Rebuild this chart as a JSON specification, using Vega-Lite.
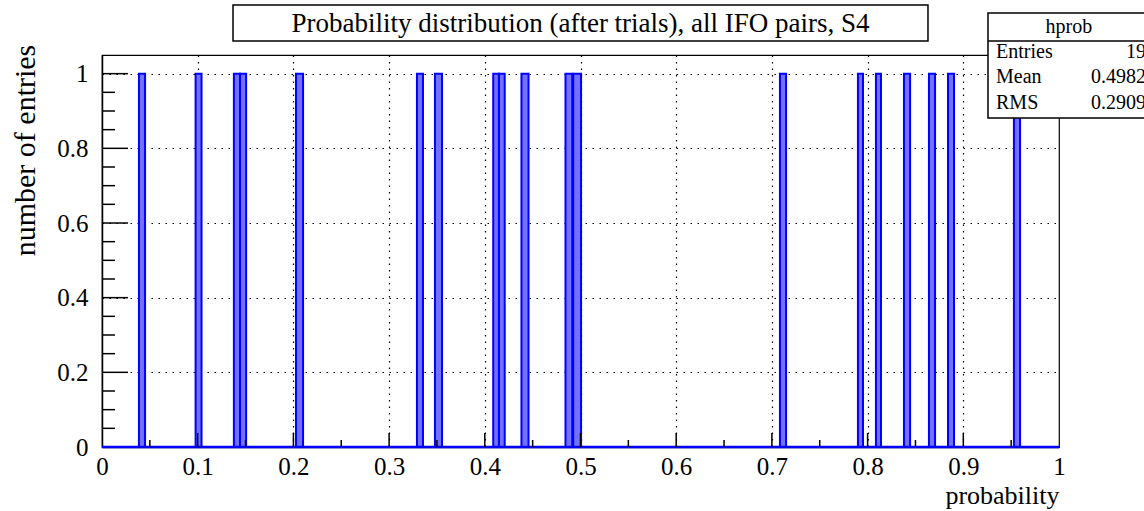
{
  "$schema": "https://vega.github.io/schema/vega-lite/v6.json",
  "autosize": "none",
  "width": 957,
  "height": 392,
  "padding": {"left": 102, "top": 55, "right": 85, "bottom": 64},
  "background": "white",
  "config": {
    "view": {"stroke": "#000000", "strokeWidth": 1.2},
    "font": "Liberation Serif",
    "text": {"font": "Liberation Serif", "fontSize": 20, "color": "#000000", "baseline": "alphabetic"},
    "axis": {
      "labelFont": "Liberation Serif",
      "labelFontSize": 25,
      "labelColor": "#000000",
      "labelFlush": false,
      "labelOverlap": false,
      "domainColor": "#000000",
      "domainWidth": 1.5,
      "tickSize": 0,
      "tickOpacity": 0,
      "grid": true,
      "gridColor": "#000000",
      "gridWidth": 1.2,
      "titleFont": "Liberation Serif",
      "titleFontWeight": "normal",
      "titleColor": "#000000",
      "zindex": 1
    },
    "axisX": {"labelPadding": 7, "labelBaseline": "top", "gridDash": [1.5, 5]},
    "axisY": {"labelPadding": 14, "gridDash": [1.5, 5.5]}
  },
  "datasets": {
    "hprob": [
      {"lo": 0.0386, "hi": 0.0450, "n": 1},
      {"lo": 0.0978, "hi": 0.1040, "n": 1},
      {"lo": 0.1378, "hi": 0.1442, "n": 1},
      {"lo": 0.1442, "hi": 0.1506, "n": 1},
      {"lo": 0.2027, "hi": 0.2101, "n": 1},
      {"lo": 0.3291, "hi": 0.3354, "n": 1},
      {"lo": 0.3479, "hi": 0.3553, "n": 1},
      {"lo": 0.4088, "hi": 0.4148, "n": 1},
      {"lo": 0.4148, "hi": 0.4208, "n": 1},
      {"lo": 0.4383, "hi": 0.4457, "n": 1},
      {"lo": 0.4843, "hi": 0.4914, "n": 1},
      {"lo": 0.4924, "hi": 0.5006, "n": 1},
      {"lo": 0.7084, "hi": 0.7148, "n": 1},
      {"lo": 0.7899, "hi": 0.7952, "n": 1},
      {"lo": 0.8087, "hi": 0.8140, "n": 1},
      {"lo": 0.8380, "hi": 0.8444, "n": 1},
      {"lo": 0.8641, "hi": 0.8705, "n": 1},
      {"lo": 0.8840, "hi": 0.8903, "n": 1},
      {"lo": 0.9529, "hi": 0.9593, "n": 1}
    ],
    "xMajor": [{"v": 0.1}, {"v": 0.2}, {"v": 0.3}, {"v": 0.4}, {"v": 0.5}, {"v": 0.6}, {"v": 0.7}, {"v": 0.8}, {"v": 0.9}],
    "xMinor": [{"v": 0.05}, {"v": 0.15}, {"v": 0.25}, {"v": 0.35}, {"v": 0.45}, {"v": 0.55}, {"v": 0.65}, {"v": 0.75}, {"v": 0.85}, {"v": 0.95}],
    "yMajor": [{"v": 0.2}, {"v": 0.4}, {"v": 0.6}, {"v": 0.8}, {"v": 1}],
    "yMinor": [{"v": 0.05}, {"v": 0.1}, {"v": 0.15}, {"v": 0.25}, {"v": 0.3}, {"v": 0.35}, {"v": 0.45}, {"v": 0.5}, {"v": 0.55}, {"v": 0.65}, {"v": 0.7}, {"v": 0.75}, {"v": 0.85}, {"v": 0.9}, {"v": 0.95}],
    "one": [{}]
  },
  "layer": [
    {
      "data": {"name": "hprob"},
      "mark": {"type": "bar", "fill": "#7272ff", "stroke": "#0000ff", "strokeWidth": 2},
      "encoding": {
        "x": {
          "field": "lo",
          "type": "quantitative",
          "title": "probability",
          "scale": {"domain": [0, 1], "nice": false, "zero": false},
          "axis": {
            "title": "probability",
            "titleFontSize": 26,
            "titleAnchor": "end",
            "titleAlign": "right",
            "titleBaseline": "alphabetic",
            "titleX": 957,
            "titleY": 56,
            "values": [0, 0.1, 0.2, 0.3, 0.4, 0.5, 0.6, 0.7, 0.8, 0.9, 1],
            "format": "~g",
            "gridOpacity": {"condition": {"test": "datum.value > 0 && datum.value < 1", "value": 1}, "value": 0}
          }
        },
        "x2": {"field": "hi"},
        "y": {
          "field": "n",
          "type": "quantitative",
          "title": "number of entries",
          "scale": {"domain": [0, 1.05], "nice": false, "zero": true},
          "axis": {
            "title": "number of entries",
            "titleFontSize": 30,
            "titleAngle": -90,
            "titleAlign": "center",
            "titleBaseline": "middle",
            "titleX": -77,
            "titleY": 95,
            "values": [0, 0.2, 0.4, 0.6, 0.8, 1],
            "format": "~g",
            "gridOpacity": {"condition": {"test": "datum.value > 0", "value": 1}, "value": 0}
          }
        },
        "y2": {"datum": 0}
      }
    },
    {
      "data": {"name": "one"},
      "mark": {"type": "rule", "color": "#0000ff", "strokeWidth": 2.5},
      "encoding": {"y": {"datum": 0}}
    },
    {
      "data": {"name": "xMajor"},
      "mark": {"type": "rule", "color": "#000000", "strokeWidth": 1.5},
      "encoding": {
        "x": {"field": "v", "type": "quantitative", "title": "probability"},
        "y": {"datum": 0},
        "y2": {"datum": 0.0375}
      }
    },
    {
      "data": {"name": "xMinor"},
      "mark": {"type": "rule", "color": "#000000", "strokeWidth": 1.5},
      "encoding": {
        "x": {"field": "v", "type": "quantitative", "title": "probability"},
        "y": {"datum": 0},
        "y2": {"datum": 0.0188}
      }
    },
    {
      "data": {"name": "yMajor"},
      "mark": {"type": "rule", "color": "#000000", "strokeWidth": 1.5},
      "encoding": {
        "y": {"field": "v", "type": "quantitative", "title": "number of entries"},
        "x": {"datum": 0},
        "x2": {"datum": 0.0272}
      }
    },
    {
      "data": {"name": "yMinor"},
      "mark": {"type": "rule", "color": "#000000", "strokeWidth": 1.5},
      "encoding": {
        "y": {"field": "v", "type": "quantitative", "title": "number of entries"},
        "x": {"datum": 0},
        "x2": {"datum": 0.0136}
      }
    },
    {
      "data": {"name": "one"},
      "mark": {"type": "rect", "fill": "#ffffff", "stroke": "#000000", "strokeWidth": 1.5},
      "encoding": {
        "x": {"datum": 0.1369}, "x2": {"datum": 0.8631},
        "y": {"datum": 1.1839}, "y2": {"datum": 1.0875}
      }
    },
    {
      "data": {"name": "one"},
      "mark": {"type": "text", "text": "Probability distribution (after trials), all IFO pairs, S4", "fontSize": 27, "align": "center"},
      "encoding": {"x": {"datum": 0.5}, "y": {"datum": 1.1116}}
    },
    {
      "data": {"name": "one"},
      "mark": {"type": "rect", "fill": "#ffffff", "stroke": "#000000", "strokeWidth": 1.5},
      "encoding": {
        "x": {"datum": 0.9258}, "x2": {"datum": 1.0951},
        "y": {"datum": 1.1625}, "y2": {"datum": 0.8812}
      }
    },
    {
      "data": {"name": "one"},
      "mark": {"type": "rule", "color": "#000000", "strokeWidth": 1.5},
      "encoding": {
        "x": {"datum": 0.9258}, "x2": {"datum": 1.0951},
        "y": {"datum": 1.0875}
      }
    },
    {
      "data": {"name": "one"},
      "mark": {"type": "text", "text": "hprob", "align": "center"},
      "encoding": {"x": {"datum": 1.0104}, "y": {"datum": 1.1089}}
    },
    {
      "data": {"name": "one"},
      "mark": {"type": "text", "text": "Entries", "align": "left"},
      "encoding": {"x": {"datum": 0.9342}, "y": {"datum": 1.042}}
    },
    {
      "data": {"name": "one"},
      "mark": {"type": "text", "text": "Mean", "align": "left"},
      "encoding": {"x": {"datum": 0.9342}, "y": {"datum": 0.975}}
    },
    {
      "data": {"name": "one"},
      "mark": {"type": "text", "text": "RMS", "align": "left"},
      "encoding": {"x": {"datum": 0.9342}, "y": {"datum": 0.9054}}
    },
    {
      "data": {"name": "one"},
      "mark": {"type": "text", "text": "19", "align": "right"},
      "encoding": {"x": {"datum": 1.0909}, "y": {"datum": 1.042}}
    },
    {
      "data": {"name": "one"},
      "mark": {"type": "text", "text": "0.4982", "align": "right"},
      "encoding": {"x": {"datum": 1.0909}, "y": {"datum": 0.975}}
    },
    {
      "data": {"name": "one"},
      "mark": {"type": "text", "text": "0.2909", "align": "right"},
      "encoding": {"x": {"datum": 1.0909}, "y": {"datum": 0.9054}}
    }
  ]
}
